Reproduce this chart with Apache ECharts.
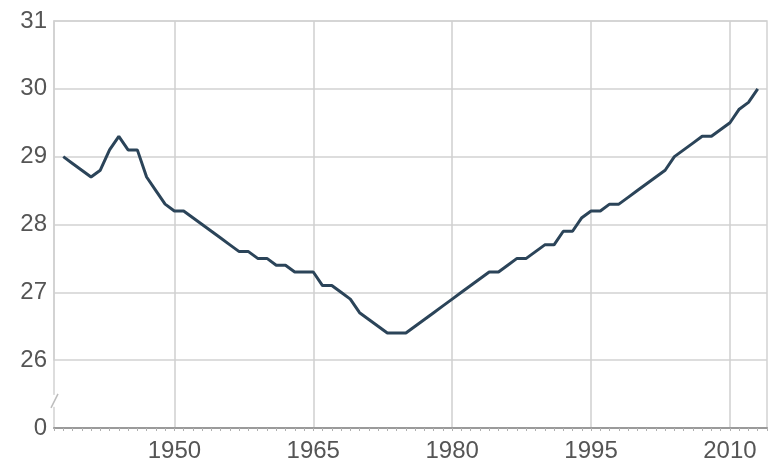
<!DOCTYPE html>
<html><head><meta charset="utf-8">
<script src="https://cdn.jsdelivr.net/npm/echarts@6/dist/echarts.min.js"></script>
<style>html,body{margin:0;padding:0;background:#fff}#c{width:769px;height:467px}</style>
</head><body><div id="c"></div>
<script>
const years = [1938,1939,1940,1941,1942,1943,1944,1945,1946,1947,1948,1949,
  1950,1951,1952,1953,1954,1955,1956,1957,1958,1959,1960,1961,1962,1963,1964,
  1965,1966,1967,1968,1969,1970,1971,1972,1973,1974,1975,1976,1977,1978,1979,
  1980,1981,1982,1983,1984,1985,1986,1987,1988,1989,1990,1991,1992,1993,1994,
  1995,1996,1997,1998,1999,2000,2001,2002,2003,2004,2005,2006,2007,2008,2009,
  2010,2011,2012,2013];
const values = [29.0,28.9,28.8,28.7,28.8,29.1,29.3,29.1,29.1,28.7,28.5,28.3,
  28.2,28.2,28.1,28.0,27.9,27.8,27.7,27.6,27.6,27.5,27.5,27.4,27.4,27.3,27.3,
  27.3,27.1,27.1,27.0,26.9,26.7,26.6,26.5,26.4,26.4,26.4,26.5,26.6,26.7,26.8,
  26.9,27.0,27.1,27.2,27.3,27.3,27.4,27.5,27.5,27.6,27.7,27.7,27.9,27.9,28.1,
  28.2,28.2,28.3,28.3,28.4,28.5,28.6,28.7,28.8,29.0,29.1,29.2,29.3,29.3,29.4,
  29.5,29.7,29.8,30.0];
const xTickLabels = [1950,1965,1980,1995,2010];
const yTickLabels = [0,26,27,28,29,30,31];
const xMin = 1937, xMax = 2014;
const yearTicks = [];
for (let y = xMin; y <= xMax; y++) yearTicks.push(y);

const chart = echarts.init(document.getElementById('c'), null, {renderer:'canvas'});
const font = 'Liberation Sans, Arial, sans-serif';
chart.setOption({
  animation:false,
  backgroundColor:'#ffffff',
  grid:{left:54,right:2,top:21,bottom:39,show:true,borderColor:'#d2d2d2',borderWidth:1.5},
  xAxis:[{
    type:'value', min:xMin, max:xMax, position:'bottom',
    axisLine:{show:true,lineStyle:{color:'#9a9a9a',width:2}},
    axisTick:{show:true,customValues:yearTicks,length:3,lineStyle:{color:'#b0b0b0',width:1}},
    axisLabel:{show:false},
    splitLine:{show:false}
  },{
    type:'value', min:xMin, max:xMax, position:'bottom',
    axisLine:{show:false},
    axisTick:{show:false,customValues:xTickLabels},
    axisLabel:{show:true,customValues:xTickLabels,formatter:v=>String(v),fontSize:24,color:'#555',fontFamily:font,margin:11},
    splitLine:{show:true,lineStyle:{color:'#cfcfcf',width:1.5}}
  }],
  yAxis:{
    type:'value', min:0, max:31,
    breaks:[{start:0,end:26,gap:'16.67%'}],
    breakArea:{show:false},
    axisLine:{show:true,lineStyle:{color:'#cfcfcf',width:1.5}},
    axisTick:{show:false,customValues:yTickLabels},
    axisLabel:{customValues:yTickLabels,formatter:v=>String(v),fontSize:24,color:'#555',fontFamily:font,margin:7},
    splitLine:{show:true,lineStyle:{color:'#d2d2d2',width:1.5}}
  },
  series:[{
    type:'line', xAxisIndex:0, yAxisIndex:0,
    data: years.map((y,i)=>[y, values[i]]),
    showSymbol:false, symbol:'none',
    lineStyle:{color:'#2b4459',width:3},
    z:5
  }]
});
const p0 = chart.convertToPixel({yAxisIndex:0}, 0);
const p26 = chart.convertToPixel({yAxisIndex:0}, 26);
const ym = p26 + (p0 - p26) * 0.6;
chart.setOption({graphic:[
  {type:'rect',shape:{x:51,y:ym-6,width:6,height:12},style:{fill:'#fff'},z:100},
  {type:'line',shape:{x1:51,y1:ym+7,x2:58,y2:ym-7},style:{stroke:'#bdbdbd',lineWidth:1.5},z:101}
]});
</script></body></html>
